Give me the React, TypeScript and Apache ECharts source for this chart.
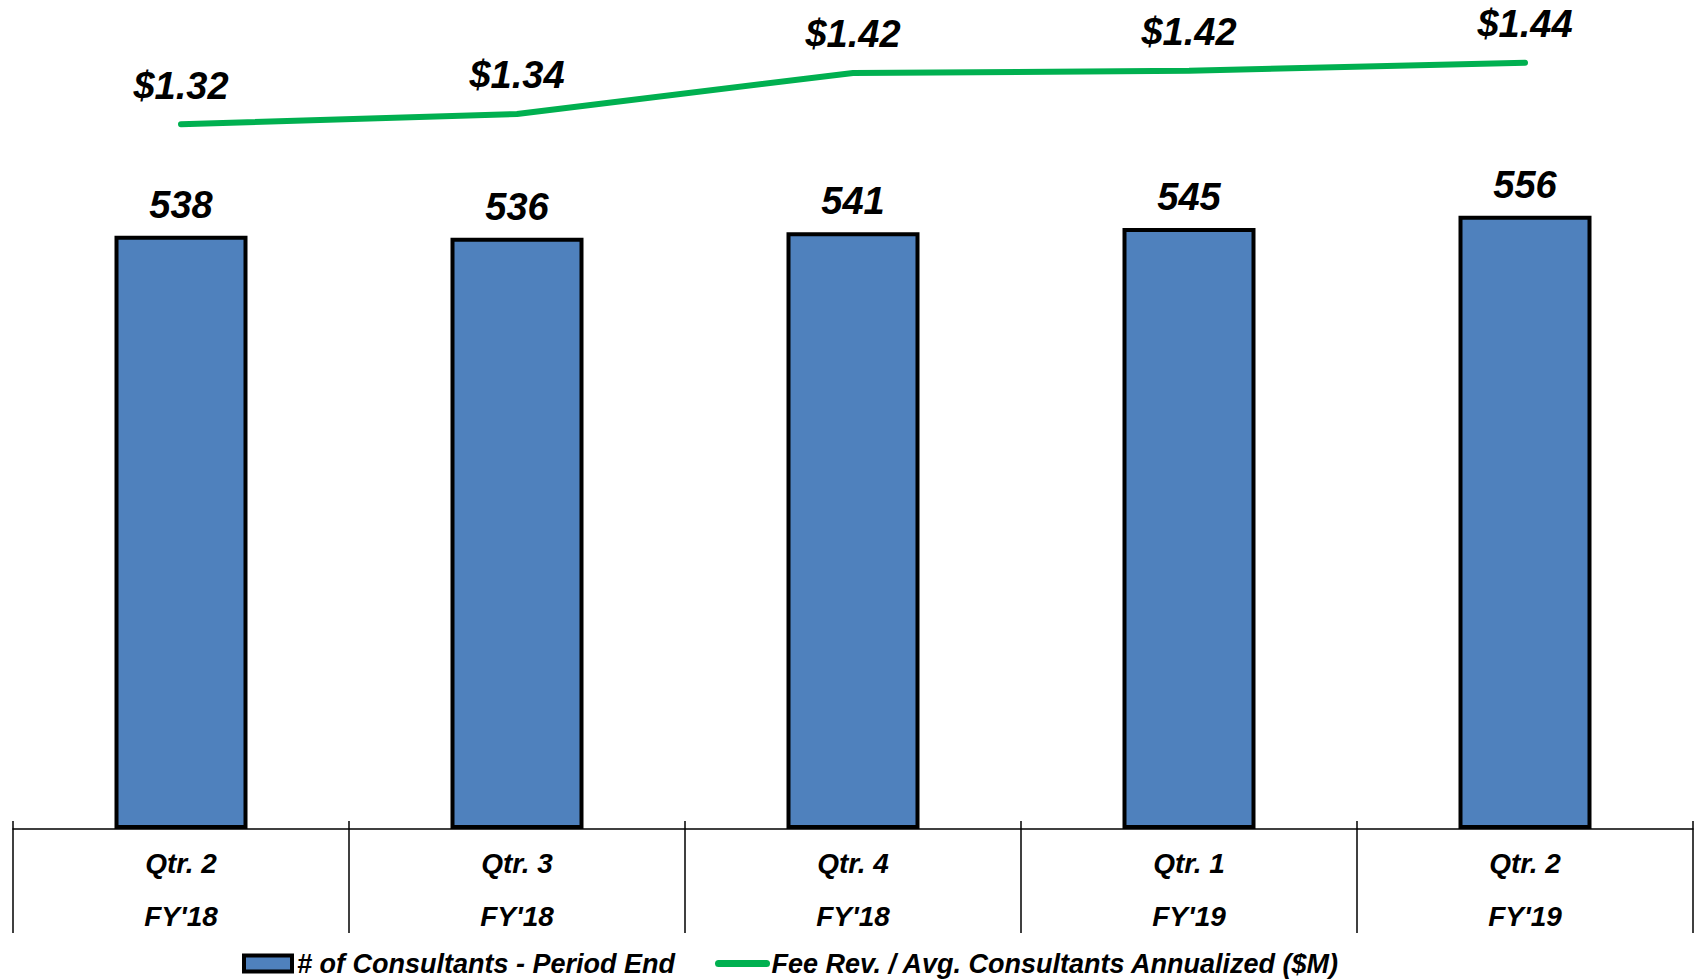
import React, { useEffect, useRef } from "react";
import * as echarts from "echarts";

const categories = ["Qtr. 2\nFY'18", "Qtr. 3\nFY'18", "Qtr. 4\nFY'18", "Qtr. 1\nFY'19", "Qtr. 2\nFY'19"];
const consultants = [538, 536, 541, 545, 556];
const feeRev = [1.32, 1.34, 1.42, 1.424, 1.44];
const barName = "# of Consultants - Period End";
const lineName = "Fee Rev. / Avg. Consultants Annualized ($M)";

const FONT = "'Liberation Sans', Arial, Helvetica, sans-serif";
const GRID_TOP = 57;
const GRID_BOTTOM = 151;
const PLOT_H = 980 - GRID_TOP - GRID_BOTTOM;

export default function App() {
  const ref = useRef<HTMLDivElement>(null);
  useEffect(() => {
    if (!ref.current) return;
    const chart = echarts.init(ref.current, undefined, { renderer: "svg" });
    chart.setOption({
      animation: false,
      backgroundColor: "#ffffff",
      textStyle: { fontFamily: FONT },
      grid: { left: 13, right: 3, top: GRID_TOP, bottom: GRID_BOTTOM, containLabel: false },
      legend: {
        left: 237,
        top: 945,
        itemGap: 40,
        itemWidth: 48,
        itemHeight: 16,
        textStyle: { fontFamily: FONT, fontSize: 27, fontWeight: "bold", fontStyle: "italic", color: "#000" },
        data: [
          { name: barName, icon: "rect", itemStyle: { color: "#4F81BD", borderColor: "#000", borderWidth: 4 } },
          {
            name: lineName,
            itemStyle: { opacity: 0 },
            lineStyle: { color: "#00B050", width: 7, cap: "round" },
          },
        ],
      },
      xAxis: [
        {
          type: "category",
          data: categories,
          position: "bottom",
          axisLine: { show: true, lineStyle: { color: "#000", width: 1.5 } },
          axisTick: { show: true, length: 104, lineStyle: { color: "#000", width: 1.5 } },
          axisLabel: {
            margin: 8,
            fontFamily: FONT,
            fontSize: 28,
            fontWeight: "bold",
            fontStyle: "italic",
            color: "#000",
            lineHeight: 53,
          },
        },
        {
          type: "category",
          data: categories,
          position: "top",
          offset: -PLOT_H,
          axisLine: { show: false, onZero: false },
          axisTick: { show: true, length: 8, lineStyle: { color: "#000", width: 1.5 } },
          axisLabel: { show: false },
        },
      ],
      yAxis: [
        { type: "value", min: 0, max: 700, show: false, splitLine: { show: false } },
        { type: "value", min: -0.054, max: 1.451, show: false, splitLine: { show: false } },
      ],
      series: [
        {
          name: barName,
          type: "bar",
          data: consultants,
          yAxisIndex: 0,
          barWidth: 133,
          itemStyle: { color: "#4F81BD", borderColor: "#000", borderWidth: 4 },
          label: {
            show: true,
            position: "top",
            distance: 12,
            fontFamily: FONT,
            fontSize: 38,
            fontWeight: "bold",
            fontStyle: "italic",
            color: "#000",
          },
        },
        {
          name: lineName,
          type: "line",
          data: feeRev,
          yAxisIndex: 1,
          symbol: "circle",
          symbolSize: 1,
          showSymbol: true,
          itemStyle: { color: "rgba(0,0,0,0)", borderWidth: 0 },
          lineStyle: { color: "#00B050", width: 6, cap: "round" },
          label: {
            show: true,
            position: "top",
            distance: 19,
            fontFamily: FONT,
            fontSize: 38,
            fontWeight: "bold",
            fontStyle: "italic",
            color: "#000",
            formatter: (p: any) => "$" + Number(p.value).toFixed(2),
          },
        },
      ],
    });
    return () => chart.dispose();
  }, []);
  return (
    <div
      ref={ref}
      style={{ position: "absolute", left: 0, top: 0, width: 1696, height: 980, background: "#fff" }}
    />
  );
}
